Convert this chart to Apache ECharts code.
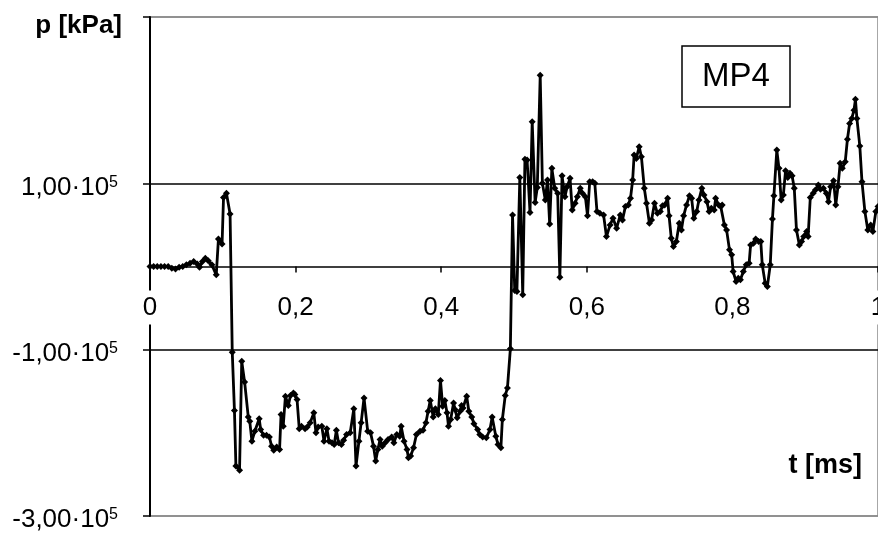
<!DOCTYPE html>
<html>
<head>
<meta charset="utf-8">
<script src="https://cdn.jsdelivr.net/npm/echarts@6/dist/echarts.min.js"></script>
<style>
html,body{margin:0;padding:0;background:#fff;}
#chart{width:878px;height:533px;}
</style>
</head>
<body>
<div id="chart"></div>
<script>
// time [ms]
const timeMs = [
0,0.005,0.01,0.015,0.02,0.025,0.03,0.035,0.04,0.045,0.05,0.055,0.06,0.065,0.068,0.072,0.076,0.08,0.085,0.091,0.094,0.099,0.101,0.105,0.11,
0.113,0.116,0.118,0.123,0.126,0.130,0.135,0.137,0.140,0.144,0.150,0.152,0.156,0.160,0.164,0.167,0.170,0.174,0.178,0.180,0.183,0.186,0.190,0.193,0.197,0.199,
0.202,0.205,0.208,0.213,0.216,0.220,0.225,0.228,0.231,0.236,0.239,0.243,0.246,0.250,0.253,0.256,0.259,0.263,0.266,0.270,0.275,0.280,0.283,0.287,0.290,0.294,0.299,
0.303,0.307,0.310,0.313,0.316,0.319,0.323,0.327,0.332,0.335,0.339,0.343,0.345,0.349,0.353,0.355,0.358,0.362,0.366,0.371,0.375,0.379,0.382,0.385,0.389,0.392,0.396,0.399,
0.402,0.405,0.408,0.410,0.413,0.417,0.419,0.422,0.426,0.428,0.430,0.435,0.438,0.442,0.445,0.450,0.453,0.457,0.462,0.467,0.470,0.475,0.478,0.482,0.484,0.488,0.491,0.495,
0.498,0.501,0.504,0.508,0.512,0.515,0.518,0.522,0.525,0.529,0.532,0.536,0.539,0.543,0.546,0.549,0.552,0.556,0.560,0.563,0.566,0.570,0.573,0.577,0.580,0.584,0.587,0.591,0.594,0.598,
0.601,0.604,0.608,0.611,0.614,0.618,0.623,0.627,0.632,0.636,0.641,0.646,0.649,0.653,0.657,0.660,0.663,0.665,0.668,0.672,0.675,0.679,0.682,0.686,0.689,0.693,0.697,
0.701,0.704,0.707,0.711,0.713,0.716,0.719,0.723,0.727,0.730,0.733,0.737,0.741,0.744,0.747,0.751,0.754,0.758,0.761,0.765,0.768,0.771,0.775,0.777,0.781,0.784,0.786,0.789,0.792,0.796,0.799,
0.801,0.805,0.808,0.811,0.815,0.819,0.823,0.825,0.829,0.832,0.836,0.839,0.841,0.845,0.848,0.852,0.855,0.857,0.861,0.864,0.867,0.870,0.873,0.876,0.879,0.882,0.885,0.888,0.892,0.895,0.898,
0.902,0.904,0.907,0.911,0.914,0.918,0.921,0.925,0.929,0.932,0.935,0.939,0.942,0.945,0.948,0.951,0.955,0.958,0.961,0.964,0.967,0.969,0.971,0.975,0.978,0.982,0.986,0.990,0.993,0.997,1.0
];
// pressure
const pressure = [
0,0,0,0,0,0,-2e3,-3e3,-1e3,0,2e3,4e3,6e3,3e3,-1e3,6e3,10e3,7e3,2e3,-10e3,33e3,27e3,83e3,88e3,63e3,
-103e3,-173e3,-240e3,-245e3,-114e3,-139e3,-181e3,-186e3,-210e3,-198e3,-183e3,-196e3,-203e3,-203e3,-205e3,-216e3,-221e3,-217e3,-220e3,-178e3,-192e3,-156e3,-167e3,-155e3,-152e3,-154e3,
-160e3,-195e3,-192e3,-195e3,-193e3,-188e3,-176e3,-200e3,-193e3,-192e3,-210e3,-195e3,-210e3,-212e3,-214e3,-197e3,-212e3,-214e3,-209e3,-202e3,-200e3,-171e3,-240e3,-210e3,-188e3,-158e3,-198e3,
-200e3,-216e3,-234e3,-220e3,-208e3,-216e3,-212e3,-208e3,-205e3,-212e3,-202e3,-204e3,-192e3,-210e3,-220e3,-230e3,-228e3,-218e3,-202e3,-198e3,-197e3,-188e3,-174e3,-161e3,-181e3,-171e3,-178e3,-137e3,
-168e3,-161e3,-176e3,-192e3,-184e3,-164e3,-172e3,-182e3,-174e3,-167e3,-170e3,-156e3,-174e3,-181e3,-189e3,-196e3,-202e3,-205e3,-206e3,-196e3,-181e3,-204e3,-214e3,-218e3,-184e3,-155e3,-146e3,-99e3,
62e3,-29e3,-30e3,107e3,-34e3,129e3,128e3,65e3,174e3,77e3,95e3,230e3,100e3,80e3,104e3,51e3,118e3,94e3,88e3,-13e3,109e3,84e3,96e3,106e3,68e3,76e3,84e3,94e3,88e3,84e3,
61e3,102e3,102e3,100e3,66e3,64e3,62e3,36e3,50e3,58e3,46e3,62e3,56e3,72e3,74e3,82e3,104e3,134e3,130e3,144e3,132e3,94e3,76e3,52e3,56e3,76e3,64e3,
66e3,73e3,74e3,82e3,61e3,34e3,24e3,30e3,52e3,44e3,61e3,74e3,85e3,82e3,58e3,66e3,80e3,94e3,86e3,78e3,66e3,70e3,68e3,82e3,74e3,72e3,74e3,50e3,44e3,20e3,14e3,
-6e3,-18e3,-14e3,-16e3,-6e3,2e3,4e3,26e3,28e3,33e3,30e3,30e3,2e3,-20e3,-24e3,2e3,57e3,85e3,140e3,118e3,80e3,86e3,115e3,107e3,112e3,109e3,94e3,44e3,26e3,30e3,36e3,
42e3,36e3,83e3,88e3,92e3,98e3,93e3,94e3,88e3,78e3,96e3,103e3,74e3,96e3,124e3,118e3,126e3,153e3,172e3,178e3,188e3,201e3,178e3,145e3,102e3,66e3,44e3,50e3,42e3,66e3,72e3
];
const xTicks = {min: 0, max: 1, interval: 0.2};
const yTicks = {min: -3e5, max: 3e5, interval: 2e5};
const xTitle = 't [ms]';
const yTitle = 'p [kPa]';
const boxLabel = 'MP4';

const FONT = '"Liberation Sans", Arial, sans-serif';
const GRID = {left: 150, right: 0, top: 17, bottom: 17};
const H = 533;
const plotH = H - GRID.top - GRID.bottom;
// pixel distance from the bottom of the plot to the zero line (derived from the axis range)
const zeroOffset = plotH * (0 - yTicks.min) / (yTicks.max - yTicks.min);

const chart = echarts.init(document.getElementById('chart'), null, {renderer: 'canvas'});
chart.setOption({
  animation: false,
  backgroundColor: '#fff',
  grid: Object.assign({show: true, borderColor: '#8a8a8a', borderWidth: 1.5, backgroundColor: 'transparent', containLabel: false, outerBoundsMode: 'none'}, GRID),
  xAxis: {
    type: 'value', min: xTicks.min, max: xTicks.max, interval: xTicks.interval,
    position: 'bottom', offset: -zeroOffset, z: 5,
    axisLine: {onZero: false, lineStyle: {color: '#000', width: 1.5}},
    axisTick: {show: true, length: 6, lineStyle: {color: '#000', width: 1.5}},
    axisLabel: {
      color: '#000', fontSize: 26, fontFamily: FONT, margin: 24, hideOverlap: false,
      backgroundColor: '#fff', padding: [4, 1, 4, 1],
      formatter: v => String(Math.round(v * 10) / 10).replace('.', ',')
    },
    splitLine: {show: false}
  },
  yAxis: {
    type: 'value', min: yTicks.min, max: yTicks.max, interval: yTicks.interval, z: 1,
    axisLine: {show: true, onZero: false, lineStyle: {color: '#000', width: 2}},
    axisTick: {show: true, length: 7, lineStyle: {color: '#000', width: 1.5}},
    splitLine: {show: true, lineStyle: {color: ['#8a8a8a', '#000', '#000', '#8a8a8a'], width: 1.5}},
    axisLabel: {
      margin: 32, color: '#000', fontFamily: FONT, padding: [8, 0, 0, 0],
      formatter: v => v >= yTicks.max ? '' : '{m|' + (v / 1e5).toFixed(2).replace('.', ',') + '·10}{s|5}',
      rich: {
        m: {fontSize: 26, fontFamily: FONT, color: '#000'},
        s: {fontSize: 16, fontFamily: FONT, color: '#000', verticalAlign: 'top'}
      }
    }
  },
  graphic: [
    {type: 'text', x: 122, y: 26, z: 100, style: {text: yTitle, font: 'bold 26px ' + FONT, fill: '#000', align: 'right', verticalAlign: 'middle'}},
    {type: 'text', x: 862, y: 466, z: 100, style: {text: xTitle, font: 'bold 27px ' + FONT, fill: '#000', align: 'right', verticalAlign: 'middle'}},
    {type: 'rect', z: 100, shape: {x: 682, y: 46, width: 108, height: 61}, style: {fill: '#fff', stroke: '#000', lineWidth: 1.5}},
    {type: 'text', x: 736, y: 77, z: 101, style: {text: boxLabel, font: '33px ' + FONT, fill: '#000', align: 'center', verticalAlign: 'middle'}}
  ],
  series: [{
    type: 'line',
    data: timeMs.map((t, i) => [t, pressure[i]]),
    symbol: 'diamond', symbolSize: 7, showAllSymbol: true,
    lineStyle: {color: '#000', width: 2.8},
    itemStyle: {color: '#000'},
    clip: true
  }]
});
</script>
</body>
</html>
